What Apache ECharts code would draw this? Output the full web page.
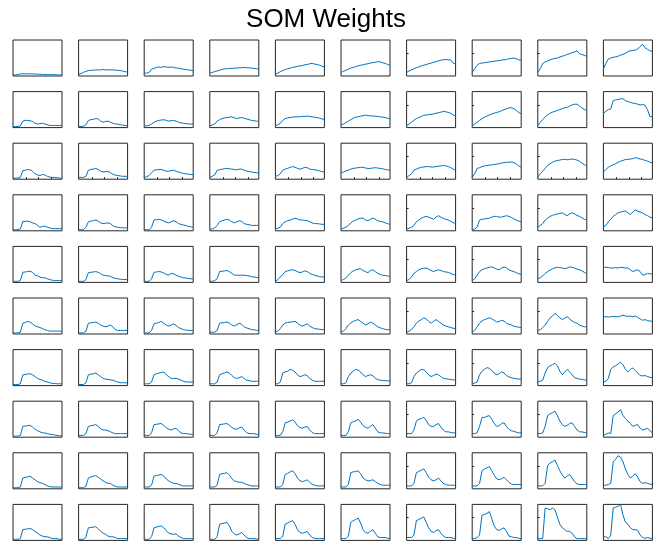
<!DOCTYPE html>
<html><head><meta charset="utf-8">
<script src="https://cdn.jsdelivr.net/npm/echarts@6/dist/echarts.min.js"></script>
<style>html,body{margin:0;padding:0;background:#fff}#c{width:672px;height:546px}</style>
</head><body><div id="c"></div>
<script>
const titleText = 'SOM Weights';
const xIdx = [0,1,2,3,4,5,6,7,8,9,10,11,12,13,14,15,16,17,18,19,20];
const sideTickValues = [0.63];
const bottomTickValues = [5.4, 10.4, 15.6];

const row1 = [
[0.03,0.03,0.04,0.06,0.06,0.06,0.06,0.06,0.06,0.055,0.05,0.05,0.04,0.04,0.04,0.04,0.035,0.04,0.03,0.03,0.03],
[0.05,0.07,0.1,0.13,0.15,0.16,0.16,0.17,0.17,0.17,0.18,0.17,0.17,0.17,0.17,0.16,0.16,0.15,0.14,0.12,0.11],
[0.08,0.08,0.1,0.19,0.21,0.24,0.25,0.24,0.26,0.25,0.24,0.25,0.24,0.22,0.22,0.2,0.19,0.18,0.17,0.16,0.15],
[0.08,0.1,0.12,0.14,0.16,0.18,0.2,0.2,0.21,0.21,0.22,0.22,0.23,0.23,0.24,0.23,0.23,0.22,0.21,0.2,0.2],
[0.05,0.08,0.12,0.15,0.18,0.2,0.22,0.24,0.25,0.27,0.28,0.29,0.31,0.32,0.34,0.35,0.33,0.32,0.3,0.27,0.25],
[0.1,0.13,0.16,0.19,0.22,0.24,0.26,0.28,0.3,0.31,0.33,0.34,0.36,0.37,0.38,0.4,0.39,0.37,0.35,0.32,0.3],
[0.1,0.14,0.17,0.2,0.23,0.25,0.28,0.3,0.32,0.34,0.36,0.38,0.4,0.42,0.44,0.45,0.46,0.45,0.45,0.36,0.33],
[0.1,0.2,0.3,0.35,0.36,0.37,0.38,0.39,0.4,0.41,0.42,0.43,0.44,0.45,0.46,0.48,0.49,0.5,0.48,0.45,0.43],
[0.1,0.2,0.35,0.39,0.42,0.45,0.47,0.49,0.5,0.53,0.55,0.57,0.6,0.62,0.65,0.67,0.7,0.62,0.6,0.57,0.55],
[0.2,0.35,0.47,0.5,0.52,0.53,0.55,0.58,0.6,0.63,0.68,0.7,0.71,0.72,0.75,0.82,0.88,0.78,0.74,0.7,0.68]
];
const row2 = [
[0.03,0.03,0.03,0.05,0.18,0.2,0.2,0.19,0.17,0.12,0.1,0.11,0.12,0.1,0.08,0.06,0.06,0.06,0.06,0.06,0.06],
[0.03,0.03,0.04,0.08,0.2,0.22,0.23,0.25,0.24,0.18,0.15,0.17,0.18,0.15,0.12,0.1,0.1,0.08,0.07,0.06,0.05],
[0.05,0.05,0.06,0.1,0.15,0.18,0.2,0.21,0.22,0.2,0.18,0.19,0.2,0.18,0.15,0.13,0.12,0.11,0.1,0.1,0.1],
[0.05,0.07,0.1,0.18,0.22,0.25,0.27,0.28,0.29,0.3,0.27,0.25,0.27,0.28,0.26,0.24,0.22,0.2,0.19,0.18,0.17],
[0.05,0.08,0.12,0.2,0.25,0.27,0.28,0.29,0.3,0.3,0.3,0.31,0.31,0.32,0.31,0.3,0.29,0.28,0.26,0.24,0.23],
[0.08,0.1,0.14,0.18,0.22,0.26,0.29,0.3,0.32,0.33,0.35,0.33,0.33,0.32,0.32,0.31,0.3,0.29,0.28,0.26,0.25],
[0.05,0.1,0.15,0.2,0.25,0.28,0.31,0.34,0.35,0.36,0.37,0.38,0.4,0.41,0.43,0.45,0.44,0.42,0.4,0.35,0.32],
[0.05,0.1,0.15,0.2,0.25,0.29,0.32,0.35,0.38,0.4,0.42,0.44,0.47,0.5,0.52,0.55,0.55,0.53,0.48,0.42,0.38],
[0.05,0.15,0.22,0.3,0.35,0.4,0.43,0.45,0.48,0.5,0.53,0.55,0.56,0.6,0.63,0.65,0.65,0.6,0.55,0.5,0.48],
[0.4,0.45,0.5,0.52,0.75,0.77,0.78,0.8,0.8,0.75,0.72,0.7,0.68,0.67,0.65,0.63,0.64,0.62,0.5,0.3,0.32]
];
const row3 = [
[0.03,0.03,0.03,0.05,0.24,0.25,0.27,0.26,0.22,0.15,0.12,0.1,0.13,0.12,0.08,0.06,0.05,0.05,0.04,0.03,0.03],
[0.05,0.05,0.05,0.08,0.25,0.27,0.28,0.3,0.27,0.22,0.2,0.21,0.22,0.18,0.14,0.11,0.1,0.09,0.08,0.08,0.08],
[0.05,0.07,0.1,0.18,0.25,0.26,0.27,0.27,0.25,0.22,0.22,0.24,0.25,0.22,0.2,0.18,0.16,0.15,0.14,0.13,0.13],
[0.05,0.08,0.12,0.25,0.26,0.28,0.29,0.3,0.29,0.28,0.27,0.26,0.28,0.28,0.25,0.23,0.21,0.2,0.19,0.18,0.18],
[0.08,0.1,0.15,0.25,0.28,0.3,0.33,0.35,0.33,0.3,0.28,0.3,0.33,0.32,0.28,0.27,0.26,0.25,0.23,0.21,0.2],
[0.18,0.2,0.23,0.25,0.28,0.3,0.31,0.32,0.33,0.33,0.31,0.3,0.3,0.31,0.32,0.31,0.3,0.29,0.27,0.26,0.25],
[0.05,0.1,0.15,0.25,0.28,0.31,0.33,0.34,0.35,0.35,0.34,0.34,0.35,0.36,0.37,0.38,0.37,0.35,0.32,0.28,0.25],
[0.05,0.15,0.3,0.32,0.35,0.37,0.38,0.39,0.4,0.41,0.42,0.43,0.45,0.46,0.47,0.47,0.48,0.46,0.42,0.37,0.33],
[0.05,0.15,0.22,0.3,0.38,0.43,0.47,0.5,0.52,0.53,0.55,0.55,0.54,0.55,0.56,0.55,0.53,0.5,0.45,0.4,0.38],
[0.2,0.27,0.33,0.37,0.4,0.43,0.47,0.5,0.52,0.55,0.55,0.56,0.57,0.6,0.58,0.56,0.55,0.52,0.5,0.47,0.45]
];
const row4 = [
[0.03,0.03,0.03,0.05,0.26,0.26,0.27,0.25,0.22,0.2,0.15,0.1,0.12,0.13,0.1,0.08,0.06,0.06,0.06,0.06,0.06],
[0.03,0.03,0.03,0.1,0.25,0.27,0.28,0.3,0.27,0.22,0.2,0.21,0.22,0.2,0.14,0.11,0.1,0.09,0.08,0.08,0.08],
[0.03,0.03,0.03,0.1,0.3,0.31,0.32,0.3,0.27,0.24,0.22,0.25,0.28,0.25,0.2,0.18,0.16,0.15,0.12,0.11,0.1],
[0.05,0.05,0.08,0.15,0.25,0.28,0.3,0.32,0.3,0.25,0.22,0.25,0.28,0.26,0.2,0.18,0.17,0.15,0.15,0.15,0.15],
[0.05,0.07,0.1,0.2,0.25,0.28,0.3,0.32,0.35,0.33,0.3,0.3,0.29,0.28,0.25,0.22,0.2,0.2,0.19,0.18,0.18],
[0.05,0.07,0.1,0.15,0.22,0.27,0.3,0.33,0.35,0.35,0.3,0.28,0.32,0.35,0.32,0.28,0.26,0.25,0.22,0.2,0.18],
[0.05,0.07,0.1,0.15,0.25,0.3,0.35,0.38,0.4,0.38,0.35,0.32,0.38,0.42,0.38,0.34,0.32,0.3,0.27,0.23,0.2],
[0.03,0.05,0.1,0.3,0.32,0.33,0.34,0.35,0.38,0.4,0.4,0.38,0.38,0.4,0.42,0.4,0.37,0.33,0.3,0.27,0.25],
[0.1,0.15,0.2,0.3,0.35,0.4,0.43,0.45,0.47,0.48,0.5,0.45,0.42,0.47,0.5,0.47,0.43,0.4,0.36,0.32,0.3],
[0.1,0.15,0.25,0.32,0.4,0.45,0.5,0.52,0.54,0.55,0.5,0.45,0.52,0.58,0.55,0.52,0.5,0.45,0.42,0.38,0.35]
];
const row5 = [
[0.03,0.03,0.03,0.05,0.28,0.29,0.3,0.31,0.28,0.2,0.18,0.15,0.13,0.13,0.1,0.08,0.06,0.05,0.05,0.05,0.05],
[0.03,0.03,0.03,0.08,0.27,0.28,0.29,0.3,0.28,0.24,0.2,0.19,0.18,0.17,0.13,0.11,0.1,0.09,0.08,0.08,0.08],
[0.03,0.03,0.03,0.1,0.28,0.29,0.3,0.29,0.26,0.22,0.2,0.25,0.24,0.2,0.17,0.15,0.13,0.12,0.11,0.1,0.1],
[0.03,0.03,0.05,0.1,0.3,0.31,0.32,0.33,0.3,0.25,0.2,0.2,0.2,0.2,0.2,0.19,0.18,0.16,0.15,0.14,0.13],
[0.03,0.08,0.15,0.22,0.3,0.32,0.34,0.35,0.33,0.3,0.27,0.29,0.32,0.3,0.25,0.22,0.2,0.18,0.16,0.15,0.15],
[0.05,0.08,0.12,0.2,0.27,0.32,0.35,0.37,0.38,0.33,0.3,0.27,0.33,0.35,0.3,0.25,0.22,0.2,0.19,0.18,0.17],
[0.05,0.08,0.15,0.25,0.3,0.35,0.38,0.39,0.4,0.37,0.33,0.3,0.33,0.35,0.33,0.3,0.29,0.28,0.25,0.22,0.2],
[0.05,0.1,0.2,0.3,0.35,0.38,0.4,0.42,0.43,0.4,0.37,0.35,0.4,0.43,0.4,0.35,0.32,0.3,0.27,0.24,0.22],
[0.1,0.13,0.18,0.25,0.3,0.34,0.38,0.4,0.42,0.41,0.4,0.38,0.4,0.43,0.42,0.4,0.37,0.35,0.32,0.28,0.25],
[0.42,0.42,0.41,0.4,0.4,0.41,0.4,0.42,0.41,0.4,0.4,0.35,0.3,0.33,0.35,0.3,0.2,0.22,0.25,0.24,0.23]
];
const row6 = [
[0.03,0.03,0.03,0.05,0.3,0.32,0.35,0.33,0.28,0.22,0.2,0.18,0.15,0.12,0.1,0.08,0.08,0.08,0.08,0.08,0.08],
[0.03,0.03,0.03,0.08,0.3,0.31,0.32,0.33,0.3,0.25,0.22,0.2,0.22,0.25,0.2,0.12,0.1,0.1,0.1,0.1,0.1],
[0.03,0.03,0.03,0.1,0.28,0.3,0.32,0.35,0.3,0.25,0.22,0.25,0.28,0.24,0.18,0.15,0.12,0.11,0.1,0.1,0.1],
[0.05,0.05,0.05,0.1,0.3,0.31,0.32,0.33,0.3,0.25,0.22,0.26,0.3,0.27,0.2,0.17,0.15,0.12,0.12,0.1,0.1],
[0.05,0.08,0.15,0.25,0.3,0.32,0.33,0.34,0.35,0.3,0.25,0.22,0.25,0.28,0.22,0.18,0.15,0.14,0.13,0.12,0.12],
[0.05,0.08,0.15,0.25,0.3,0.35,0.38,0.4,0.35,0.3,0.25,0.28,0.33,0.3,0.25,0.2,0.17,0.15,0.13,0.12,0.12],
[0.05,0.08,0.12,0.2,0.3,0.36,0.4,0.45,0.42,0.35,0.3,0.35,0.4,0.35,0.3,0.25,0.22,0.2,0.18,0.16,0.15],
[0.05,0.1,0.2,0.3,0.36,0.4,0.42,0.45,0.42,0.38,0.33,0.35,0.38,0.36,0.3,0.27,0.25,0.22,0.2,0.19,0.18],
[0.1,0.12,0.18,0.25,0.35,0.45,0.5,0.57,0.52,0.45,0.4,0.44,0.48,0.42,0.36,0.32,0.3,0.25,0.22,0.2,0.2],
[0.48,0.48,0.47,0.48,0.49,0.48,0.48,0.5,0.52,0.5,0.49,0.5,0.48,0.5,0.46,0.42,0.38,0.4,0.37,0.36,0.35]
];
const row7 = [
[0.03,0.03,0.03,0.05,0.3,0.31,0.32,0.33,0.3,0.25,0.2,0.17,0.15,0.12,0.1,0.08,0.06,0.06,0.05,0.05,0.05],
[0.03,0.03,0.03,0.08,0.3,0.32,0.33,0.35,0.3,0.25,0.2,0.18,0.17,0.16,0.15,0.12,0.1,0.08,0.08,0.08,0.08],
[0.05,0.05,0.05,0.1,0.3,0.33,0.35,0.36,0.38,0.3,0.25,0.2,0.2,0.2,0.18,0.15,0.12,0.1,0.1,0.1,0.1],
[0.05,0.05,0.05,0.1,0.3,0.33,0.35,0.38,0.35,0.28,0.22,0.2,0.22,0.25,0.2,0.15,0.14,0.12,0.12,0.12,0.12],
[0.05,0.05,0.1,0.35,0.38,0.4,0.45,0.43,0.38,0.3,0.25,0.27,0.3,0.28,0.2,0.15,0.12,0.12,0.12,0.12,0.12],
[0.05,0.05,0.08,0.25,0.35,0.4,0.45,0.43,0.38,0.3,0.25,0.28,0.3,0.28,0.2,0.17,0.15,0.14,0.14,0.13,0.13],
[0.05,0.05,0.08,0.25,0.35,0.4,0.45,0.44,0.38,0.3,0.25,0.28,0.32,0.3,0.25,0.2,0.19,0.18,0.17,0.16,0.15],
[0.05,0.07,0.1,0.3,0.4,0.45,0.5,0.48,0.42,0.35,0.3,0.33,0.38,0.35,0.28,0.24,0.22,0.2,0.19,0.18,0.18],
[0.1,0.12,0.15,0.35,0.5,0.55,0.58,0.62,0.55,0.4,0.3,0.38,0.45,0.38,0.3,0.22,0.2,0.18,0.17,0.16,0.15],
[0.1,0.12,0.2,0.45,0.52,0.55,0.6,0.65,0.58,0.45,0.38,0.45,0.49,0.42,0.35,0.28,0.27,0.28,0.25,0.23,0.22]
];
const row8 = [
[0.03,0.03,0.03,0.05,0.3,0.31,0.32,0.33,0.28,0.22,0.18,0.15,0.12,0.12,0.1,0.08,0.08,0.06,0.05,0.04,0.04],
[0.05,0.05,0.05,0.1,0.3,0.32,0.33,0.35,0.3,0.24,0.2,0.2,0.18,0.15,0.12,0.1,0.1,0.1,0.1,0.1,0.1],
[0.05,0.05,0.05,0.12,0.35,0.36,0.37,0.38,0.33,0.26,0.22,0.2,0.23,0.25,0.18,0.12,0.1,0.1,0.09,0.08,0.08],
[0.05,0.05,0.05,0.12,0.35,0.36,0.37,0.38,0.33,0.27,0.23,0.22,0.26,0.28,0.2,0.13,0.1,0.1,0.1,0.08,0.08],
[0.05,0.05,0.05,0.15,0.4,0.42,0.45,0.48,0.42,0.32,0.27,0.25,0.28,0.3,0.2,0.13,0.1,0.1,0.1,0.1,0.1],
[0.05,0.05,0.05,0.15,0.4,0.43,0.45,0.5,0.42,0.32,0.27,0.25,0.3,0.35,0.25,0.15,0.12,0.12,0.11,0.1,0.1],
[0.1,0.1,0.1,0.2,0.45,0.5,0.52,0.55,0.47,0.35,0.3,0.3,0.35,0.38,0.28,0.2,0.15,0.15,0.13,0.12,0.12],
[0.1,0.1,0.12,0.3,0.55,0.55,0.58,0.6,0.5,0.38,0.3,0.32,0.38,0.4,0.3,0.22,0.18,0.16,0.14,0.12,0.12],
[0.1,0.1,0.12,0.3,0.6,0.65,0.68,0.72,0.6,0.45,0.35,0.3,0.33,0.38,0.4,0.3,0.2,0.15,0.15,0.13,0.12],
[0.05,0.08,0.12,0.1,0.6,0.65,0.7,0.77,0.6,0.52,0.45,0.38,0.3,0.33,0.35,0.25,0.2,0.22,0.25,0.18,0.12]
];
const row9 = [
[0.03,0.03,0.03,0.05,0.3,0.32,0.33,0.35,0.3,0.25,0.2,0.17,0.15,0.12,0.08,0.06,0.05,0.05,0.05,0.05,0.05],
[0.03,0.03,0.03,0.08,0.3,0.33,0.35,0.37,0.32,0.27,0.22,0.18,0.15,0.15,0.1,0.07,0.05,0.05,0.05,0.05,0.05],
[0.05,0.05,0.05,0.1,0.35,0.37,0.38,0.4,0.35,0.27,0.22,0.18,0.15,0.15,0.12,0.1,0.08,0.08,0.08,0.08,0.08],
[0.05,0.05,0.05,0.1,0.4,0.42,0.43,0.45,0.38,0.28,0.22,0.2,0.18,0.18,0.15,0.12,0.1,0.08,0.08,0.08,0.08],
[0.05,0.05,0.05,0.12,0.4,0.43,0.47,0.5,0.42,0.3,0.22,0.2,0.22,0.25,0.18,0.12,0.1,0.08,0.08,0.08,0.08],
[0.05,0.05,0.05,0.12,0.45,0.47,0.48,0.5,0.42,0.3,0.25,0.22,0.23,0.25,0.2,0.15,0.12,0.1,0.1,0.1,0.1],
[0.08,0.08,0.08,0.15,0.45,0.48,0.52,0.55,0.45,0.32,0.25,0.22,0.25,0.3,0.22,0.15,0.12,0.1,0.1,0.1,0.1],
[0.08,0.08,0.08,0.15,0.5,0.55,0.58,0.62,0.5,0.38,0.28,0.25,0.28,0.32,0.25,0.18,0.13,0.12,0.12,0.12,0.12],
[0.08,0.08,0.08,0.15,0.65,0.72,0.75,0.8,0.65,0.5,0.38,0.3,0.35,0.4,0.3,0.2,0.14,0.12,0.12,0.12,0.12],
[0.1,0.1,0.12,0.15,0.75,0.82,0.92,0.88,0.75,0.55,0.4,0.3,0.35,0.42,0.32,0.2,0.15,0.17,0.15,0.13,0.12]
];
const row10 = [
[0.03,0.03,0.03,0.05,0.3,0.31,0.32,0.33,0.3,0.25,0.2,0.15,0.12,0.1,0.1,0.08,0.05,0.05,0.05,0.03,0.03],
[0.03,0.03,0.03,0.1,0.35,0.36,0.37,0.38,0.32,0.25,0.2,0.17,0.12,0.1,0.1,0.08,0.05,0.05,0.05,0.05,0.05],
[0.03,0.03,0.03,0.1,0.35,0.37,0.39,0.4,0.35,0.27,0.2,0.18,0.17,0.18,0.12,0.08,0.05,0.05,0.05,0.05,0.05],
[0.03,0.03,0.03,0.1,0.45,0.47,0.48,0.5,0.4,0.25,0.18,0.15,0.18,0.22,0.15,0.08,0.05,0.05,0.05,0.04,0.03],
[0.05,0.05,0.05,0.12,0.45,0.48,0.52,0.55,0.45,0.3,0.22,0.2,0.22,0.25,0.15,0.08,0.06,0.05,0.05,0.05,0.05],
[0.05,0.05,0.05,0.12,0.5,0.55,0.58,0.62,0.48,0.3,0.22,0.2,0.25,0.3,0.2,0.1,0.08,0.08,0.08,0.06,0.05],
[0.08,0.08,0.08,0.15,0.55,0.58,0.62,0.65,0.5,0.35,0.25,0.22,0.27,0.3,0.2,0.12,0.08,0.08,0.08,0.06,0.05],
[0.05,0.05,0.08,0.15,0.7,0.72,0.75,0.8,0.6,0.4,0.3,0.28,0.32,0.35,0.25,0.12,0.1,0.08,0.08,0.06,0.05],
[0.05,0.05,0.05,0.9,0.88,0.85,0.9,0.85,0.65,0.45,0.35,0.3,0.25,0.25,0.2,0.1,0.05,0.05,0.05,0.05,0.05],
[0.1,0.1,0.05,0.15,0.9,0.92,0.95,1.0,0.7,0.5,0.45,0.35,0.3,0.3,0.28,0.15,0.08,0.06,0.08,0.06,0.05]
];
const rows = [row1,row2,row3,row4,row5,row6,row7,row8,row9,row10];

const grids = [], xAxes = [], yAxes = [], series = [];
const stepX = 65.6, stepY = 51.6;
rows.forEach((row, r) => {
  row.forEach((vals, c) => {
    const k = r * 10 + c;
    const sideTicks = (c >= 6 && c <= 8);
    const bottomTicks = (r === 2);
    grids.push({
      left: 13 + c * stepX, top: 40 + r * stepY, width: 49, height: 36,
      show: true, borderColor: '#262626', borderWidth: 1, backgroundColor: '#fff'
    });
    xAxes.push({ gridIndex: k, type: 'value', min: 0, max: 20,
      axisLine: {show:false},
      axisTick: bottomTicks ? {show:true, inside:true, length:2, customValues: bottomTickValues, lineStyle:{color:'#262626', width:1}} : {show:false},
      axisLabel: {show:false}, splitLine: {show:false} });
    yAxes.push({ gridIndex: k, type: 'value', min: 0, max: 1, position: 'right',
      axisLine: {show:false},
      axisTick: sideTicks ? {show:true, inside:false, length:2, customValues: sideTickValues, lineStyle:{color:'#262626', width:1}} : {show:false},
      axisLabel: {show:false}, splitLine: {show:false} });
    series.push({
      type: 'line', xAxisIndex: k, yAxisIndex: k, showSymbol: false, silent: true,
      data: xIdx.map((x, i) => [x, vals[i]]),
      lineStyle: { color: '#0072BD', width: 1 }
    });
  });
});

const chart = echarts.init(document.getElementById('c'), null, { renderer: 'canvas' });
chart.setOption({
  animation: false,
  backgroundColor: '#fff',
  title: {
    text: titleText, left: 321, top: 2, textAlign: 'center',
    textStyle: { fontFamily: 'Liberation Sans, Arial, sans-serif', fontSize: 26, fontWeight: 'normal', color: '#000' }
  },
  grid: grids, xAxis: xAxes, yAxis: yAxes, series: series
});
</script>
</body></html>
